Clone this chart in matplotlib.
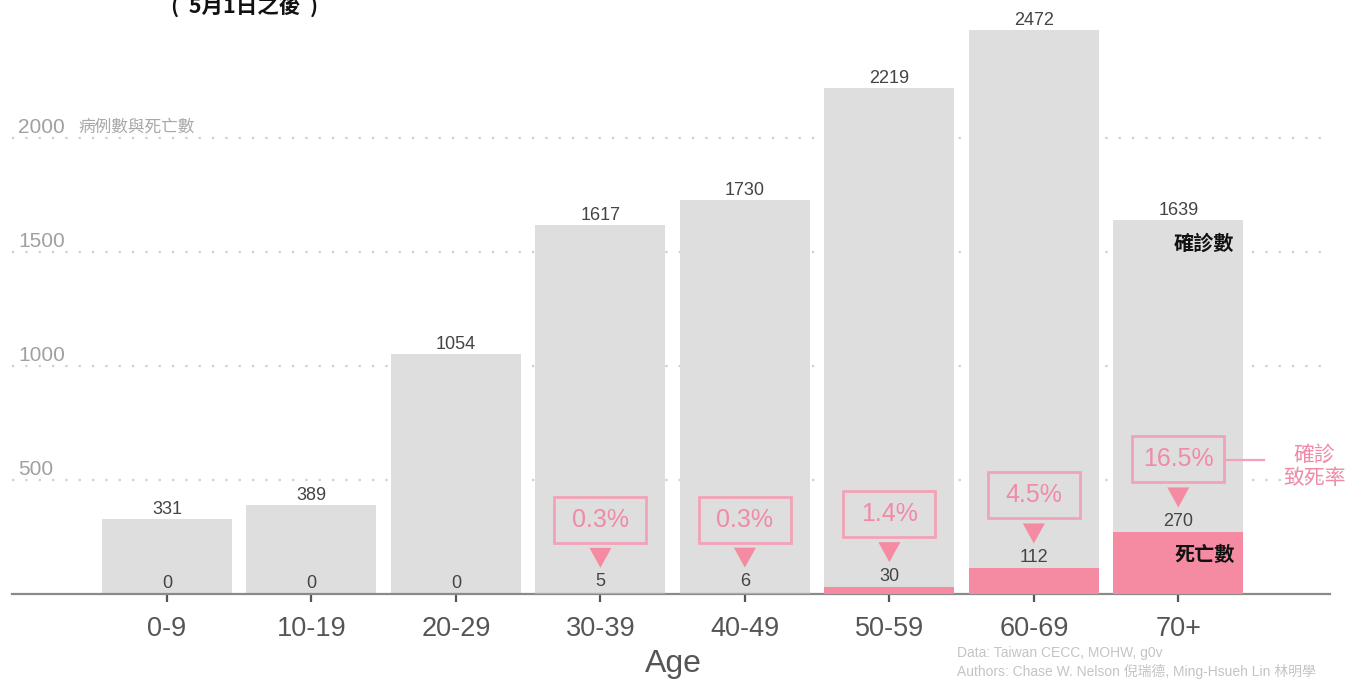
import matplotlib.pyplot as plt
import matplotlib.transforms as mtransforms
from matplotlib.patches import Rectangle, Polygon

plt.rcParams['font.family'] = ['Liberation Sans', 'Noto Sans CJK TC', 'DejaVu Sans']

# cases and deaths by age group since 1 May
age_groups = ['0-9', '10-19', '20-29', '30-39', '40-49', '50-59', '60-69', '70+']
cases = [331, 389, 1054, 1617, 1730, 2219, 2472, 1639]
deaths = [0, 0, 0, 5, 6, 30, 112, 270]
cfr_labels = ['', '', '', '0.3%', '0.3%', '1.4%', '4.5%', '16.5%']
grid_values = [500, 1000, 1500, 2000]

grey_bar = '#dedede'
pink_bar = '#f48ba3'
pink_text = '#f08aa6'
pink_box = '#f3a3b7'

fig = plt.figure(figsize=(13.49, 6.79), dpi=100)
W, H = 1349, 679
ax = fig.add_axes([12 / W, 85 / H, (1330 - 12) / W, 594 / H])

x = list(range(len(age_groups)))
ax.bar(x, cases, width=0.9, color=grey_bar, zorder=2)
ax.bar(x, deaths, width=0.9, color=pink_bar, zorder=3)

ax.set_xlim(-1.073, 8.05)
ax.set_ylim(0, 2605)

# dotted guide lines with labels sitting on top of them
lab_tr = mtransforms.blended_transform_factory(ax.transAxes, ax.transData)
for v in grid_values:
    ax.axhline(v, color='#cfcfcf', lw=1.6, ls=(0, (1, 5)), zorder=1)
    ax.annotate(str(v), xy=(6 / 1318, v), xycoords=lab_tr, xytext=(0, 1),
                textcoords='offset pixels', ha='left', va='bottom',
                fontsize=15, color='#a0a0a0')
ax.annotate('病例數與死亡數', xy=(66 / 1318, 2000), xycoords=lab_tr,
            xytext=(0, 3), textcoords='offset pixels', ha='left', va='bottom',
            fontsize=12, color='#a8a8a8')


def px_at(xv, yv):
    # pixel-unit transform anchored at a data point
    return mtransforms.ScaledTranslation(xv, yv, ax.transData)


for i, (c, d, lab) in enumerate(zip(cases, deaths, cfr_labels)):
    ax.annotate(str(c), xy=(i, c), xytext=(0, 1), textcoords='offset pixels',
                ha='center', va='bottom', fontsize=13, color='#444444', zorder=5)
    ax.annotate(str(d), xy=(i, d), xytext=(0, 11), textcoords='offset pixels',
                ha='center', va='center', fontsize=13, color='#444444', zorder=5)
    if lab:
        base = px_at(i, d)
        tri = Polygon([(-11, 45), (11, 45), (0, 25)], closed=True,
                      facecolor=pink_bar, edgecolor='none',
                      transform=mtransforms.IdentityTransform() + base, zorder=5)
        ax.add_patch(tri)
        box = Rectangle((-46, 50), 92, 46, facecolor='none', edgecolor=pink_box,
                        lw=2, transform=mtransforms.IdentityTransform() + base,
                        zorder=5)
        ax.add_patch(box)
        ax.annotate(lab, xy=(i, d), xytext=(0, 73), textcoords='offset pixels',
                    ha='center', va='center', fontsize=18, color=pink_text,
                    zorder=6)

# legend-like labels inside the last bar
last = len(cases) - 1
ax.annotate('確診數', xy=(last + 0.45, cases[last]), xytext=(-9, -24),
            textcoords='offset pixels', ha='right', va='center',
            fontsize=14.5, fontweight='bold', color='#111111', zorder=6)
ax.annotate('死亡數', xy=(last + 0.45, deaths[last]), xytext=(-8, -23),
            textcoords='offset pixels', ha='right', va='center',
            fontsize=14.5, fontweight='bold', color='#111111', zorder=6)
leader = mtransforms.IdentityTransform() + px_at(last, deaths[last])
ax.plot([47, 86], [72, 72], color=pink_box, lw=1.6, transform=leader,
        clip_on=False, zorder=5)
ax.annotate('確診\n致死率', xy=(last, deaths[last]), xytext=(136, 66),
            textcoords='offset pixels', ha='center', va='center',
            fontsize=15, color=pink_text, linespacing=1.25,
            annotation_clip=False)

for s in ['top', 'right', 'left']:
    ax.spines[s].set_visible(False)
ax.spines['bottom'].set_color('#8a8a8a')
ax.spines['bottom'].set_linewidth(1.6)
ax.set_yticks([])
ax.set_xticks(x)
ax.set_xticklabels(age_groups, fontsize=19.5, color='#555555')
ax.tick_params(axis='x', length=6, width=1.6, color='#555555', pad=10)

fig.text(673 / W, 1 - 664 / H, 'Age', ha='center', va='center',
         fontsize=23, color='#555555')
fig.text(171 / W, 1 - 6 / H, '(  5月1日之後  )', ha='left', va='center',
         fontsize=15.5, fontweight='bold', color='#111111',
         family=['Noto Sans CJK TC', 'DejaVu Sans'])
fig.text(957 / W, 1 - 653 / H, 'Data: Taiwan CECC, MOHW, g0v', ha='left',
         va='center', fontsize=10, color='#c4c4c4')
fig.text(957 / W, 1 - 671 / H, 'Authors: Chase W. Nelson 倪瑞德, Ming-Hsueh Lin 林明學',
         ha='left', va='center', fontsize=10, color='#c4c4c4')

fig.savefig('out.png', dpi=100)
